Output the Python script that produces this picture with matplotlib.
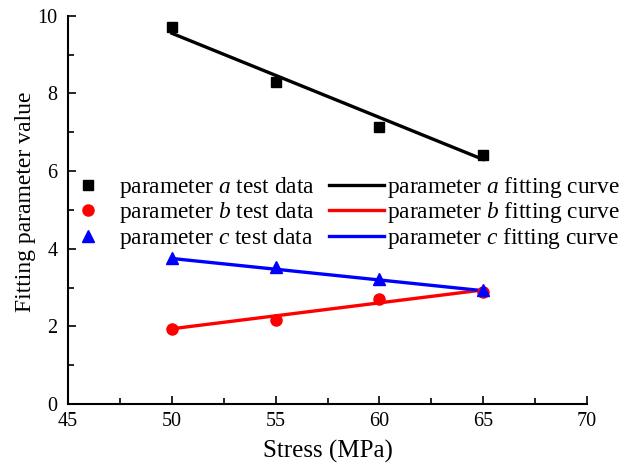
import matplotlib
matplotlib.use("Agg")
import matplotlib.pyplot as plt
from matplotlib.ticker import MultipleLocator

plt.rcParams['font.family'] = ['Liberation Serif', 'DejaVu Serif']
plt.rcParams['mathtext.fontset'] = 'custom'
plt.rcParams['mathtext.it'] = 'Liberation Serif:italic'
plt.rcParams['mathtext.rm'] = 'Liberation Serif'

stress = [50, 55, 60, 65]
param_a = [9.72, 8.30, 7.14, 6.42]
param_b = [1.94, 2.17, 2.71, 2.89]
param_c = [3.75, 3.52, 3.23, 2.95]

fit_x = [50, 65]
fit_a = [9.55, 6.30]
fit_b = [1.94, 2.94]
fit_c = [3.75, 2.92]

fig = plt.figure(figsize=(6.25, 4.65), dpi=100)
ax = fig.add_axes([0.109, 0.131, 0.83, 0.835])

la, = ax.plot(fit_x, fit_a, color='black', lw=2.4, zorder=2)
lb, = ax.plot(fit_x, fit_b, color='red', lw=2.4, zorder=2)
lc, = ax.plot(fit_x, fit_c, color='blue', lw=2.4, zorder=2)
sa, = ax.plot(stress, param_a, 's', color='black', ms=7.5, ls='none', zorder=3)
sb, = ax.plot(stress, param_b, 'o', color='red', ms=8, ls='none', zorder=3)
sc, = ax.plot(stress, param_c, '^', color='blue', ms=8.5, ls='none', zorder=3)

ax.set_xlim(45, 70)
ax.set_ylim(0, 10)
ax.xaxis.set_major_locator(MultipleLocator(5))
ax.xaxis.set_minor_locator(MultipleLocator(2.5))
ax.yaxis.set_major_locator(MultipleLocator(2))
ax.yaxis.set_minor_locator(MultipleLocator(1))
ax.tick_params(which='both', direction='in', labelsize=14.5, width=1.2)
ax.tick_params(which='major', length=6)
ax.tick_params(which='minor', length=4)
ax.spines['top'].set_visible(False)
ax.spines['right'].set_visible(False)
for s in ('left', 'bottom'):
    ax.spines[s].set_linewidth(1.5)
ax.tick_params(axis='x', pad=6)
ax.tick_params(axis='y', pad=7.5)

ax.set_xlabel('Stress (MPa)', fontsize=18, labelpad=6)
ax.set_ylabel('Fitting parameter value', fontsize=17, labelpad=1)
ax.yaxis.label.set_y(0.52)

handles = [sa, sb, sc, la, lb, lc]
labels = ['parameter $a$ test data', 'parameter $b$ test data', 'parameter $c$ test data',
          'parameter $a$ fitting curve', 'parameter $b$ fitting curve', 'parameter $c$ fitting curve']
fig.legend(handles, labels, ncol=2, frameon=False, fontsize=16.85,
           loc='center left', bbox_to_anchor=(0.097, 0.542),
           handlelength=2.35, handletextpad=0.15, columnspacing=0.6,
           labelspacing=0.02, borderaxespad=0, borderpad=0)

fig.savefig('out.png', dpi=100)
